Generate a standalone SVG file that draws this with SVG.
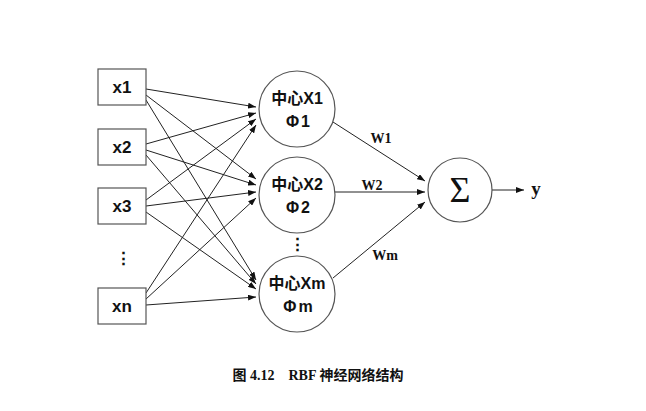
<svg xmlns="http://www.w3.org/2000/svg" width="646" height="411" viewBox="0 0 646 411">
<defs>
<marker id="ah" markerWidth="8" markerHeight="6" refX="8" refY="3" orient="auto" markerUnits="userSpaceOnUse">
<path d="M0,0 L8,3 L0,6 z" fill="#111"/>
</marker>
<style>
.box{fill:#fff;stroke:#555;stroke-width:1.2}
.nd{fill:#fff;stroke:#555;stroke-width:1.2}
.in{font-family:"Liberation Sans","Noto Sans",sans-serif;font-weight:bold;font-size:17px;fill:#111;text-anchor:middle}
.cn{font-family:"Liberation Sans","Noto Sans CJK SC",sans-serif;font-weight:bold;font-size:16px;fill:#111;text-anchor:middle}
.ph{font-family:"Liberation Sans","Noto Sans CJK SC",sans-serif;font-weight:bold;font-size:16px;fill:#111;text-anchor:middle;letter-spacing:2px}
.w{font-family:"Liberation Serif",serif;font-weight:bold;font-size:14px;fill:#111;text-anchor:middle}
.ln{stroke:#222;stroke-width:1;fill:none;marker-end:url(#ah)}
</style>
</defs>
<rect width="646" height="411" fill="#fff"/>
<g id="connectors">
<line class="ln" x1="146" y1="89" x2="256" y2="107"/>
<line class="ln" x1="146" y1="95" x2="256" y2="179"/>
<line class="ln" x1="146" y1="100" x2="256" y2="280"/>
<line class="ln" x1="146" y1="144" x2="256" y2="113"/>
<line class="ln" x1="146" y1="150" x2="256" y2="185"/>
<line class="ln" x1="146" y1="155" x2="256" y2="284"/>
<line class="ln" x1="146" y1="200" x2="256" y2="119"/>
<line class="ln" x1="146" y1="206" x2="256" y2="192"/>
<line class="ln" x1="146" y1="212" x2="256" y2="289"/>
<line class="ln" x1="146" y1="293" x2="256" y2="125"/>
<line class="ln" x1="146" y1="299" x2="256" y2="198"/>
<line class="ln" x1="146" y1="305" x2="256" y2="297"/>
<line class="ln" x1="333" y1="122" x2="425" y2="181"/>
<line class="ln" x1="335" y1="192" x2="425" y2="192"/>
<line class="ln" x1="333" y1="278" x2="425" y2="202"/>
<line class="ln" x1="492" y1="190" x2="524" y2="190"/>
<text class="w" x="381" y="143">W1</text>
<text class="w" x="372" y="190">W2</text>
<text class="w" x="385" y="260">Wm</text>
</g>
<g id="x1"><rect class="box" x="98" y="69" width="48" height="36"/><text class="in" x="122" y="93">x1</text></g>
<g id="x2"><rect class="box" x="98" y="129" width="48" height="36"/><text class="in" x="122" y="153">x2</text></g>
<g id="x3"><rect class="box" x="98" y="188" width="48" height="36"/><text class="in" x="122" y="212">x3</text></g>
<g id="xdots"><text class="in" x="123" y="264" font-size="20">⋮</text></g>
<g id="xn"><rect class="box" x="98" y="288" width="48" height="36"/><text class="in" x="122" y="312">xn</text></g>
<g id="c1"><circle class="nd" cx="297" cy="109" r="38"/><text class="cn" x="297" y="104">中心X1</text><text class="ph" x="299" y="127">Φ1</text></g>
<g id="c2"><circle class="nd" cx="297" cy="195" r="38"/><text class="cn" x="297" y="190">中心X2</text><text class="ph" x="299" y="213">Φ2</text></g>
<g id="cdots"><text class="in" x="297" y="250" font-size="20">⋮</text></g>
<g id="cm"><circle class="nd" cx="297" cy="294" r="38"/><text class="cn" x="297" y="289">中心Xm</text><text class="ph" x="299" y="312">Φm</text></g>
<g id="sum"><circle class="nd" cx="460" cy="190" r="32"/><text x="460" y="202" font-family="Liberation Serif,serif" font-size="36" text-anchor="middle" fill="#111">Σ</text></g>
<g id="out"><text x="536" y="195" font-family="Liberation Serif,serif" font-weight="bold" font-size="19" text-anchor="middle" fill="#111">y</text></g>
<text x="318" y="380" font-family="Liberation Serif,Noto Sans CJK SC,serif" font-weight="bold" font-size="14" text-anchor="middle" fill="#111" xml:space="preserve">图 4.12    RBF 神经网络结构</text>
</svg>
